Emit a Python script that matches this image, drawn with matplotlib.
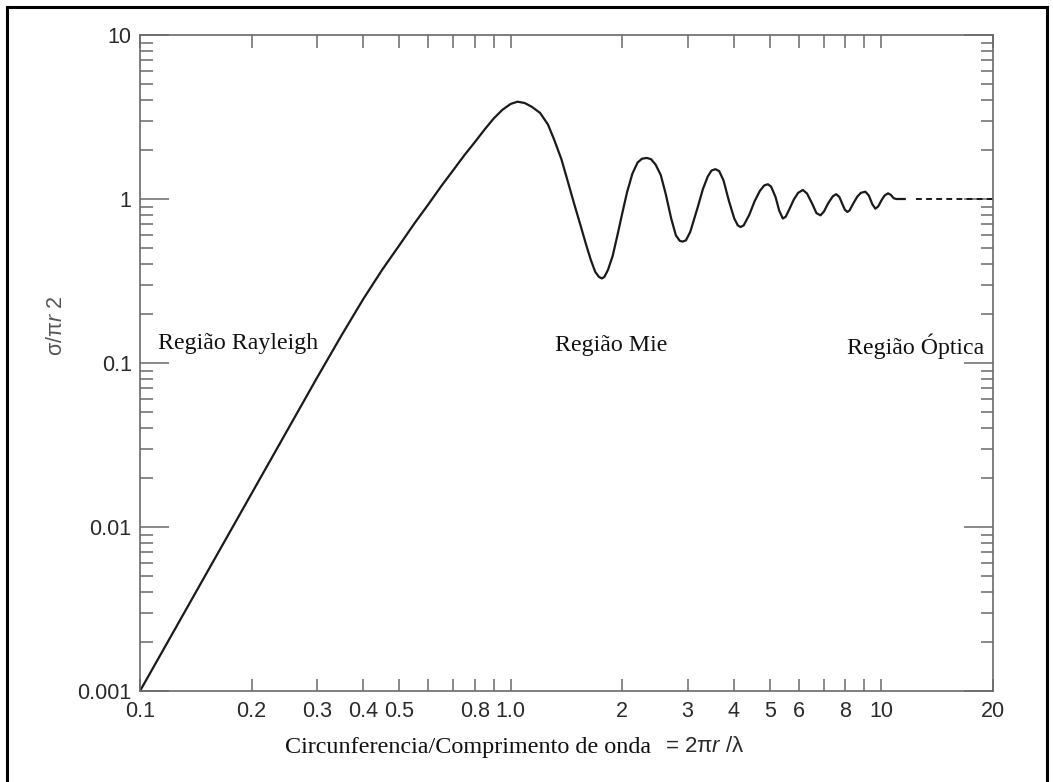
import matplotlib
matplotlib.use("Agg")
import matplotlib.pyplot as plt
from matplotlib.lines import Line2D
from matplotlib.ticker import FixedLocator, NullFormatter, FixedFormatter

plt.rcParams["mathtext.fontset"] = "custom"
plt.rcParams["mathtext.it"] = "Liberation Sans:italic"
plt.rcParams["mathtext.rm"] = "Liberation Sans"

# ---- data (x = 2*pi*r/lambda, y = sigma/(pi r^2)) ----
size_param = [0.1, 0.2, 0.3, 0.35, 0.4, 0.45, 0.5, 0.55, 0.6, 0.65, 0.7, 0.75,
              0.8, 0.85, 0.9, 0.95, 1.0, 1.043, 1.09, 1.14, 1.2, 1.26, 1.31, 1.37,
              1.42, 1.48, 1.546, 1.6, 1.645, 1.69, 1.73, 1.761, 1.79, 1.83, 1.884,
              1.94, 2.0, 2.06, 2.13, 2.2, 2.26, 2.327, 2.39, 2.46, 2.54, 2.62, 2.71,
              2.79, 2.86, 2.91, 2.97, 3.05, 3.19, 3.30, 3.40, 3.48, 3.565, 3.65,
              3.75, 3.88, 4.01, 4.1, 4.17, 4.25, 4.4, 4.55, 4.7, 4.83, 4.94, 5.04,
              5.18, 5.3, 5.42, 5.52, 5.65, 5.8, 5.96, 6.14, 6.3, 6.5, 6.68, 6.85,
              7.0, 7.2, 7.4, 7.55, 7.7, 7.85, 7.97, 8.09, 8.2, 8.4, 8.6, 8.8, 9.05,
              9.25, 9.45, 9.63, 9.8, 10.0, 10.2, 10.42, 10.6, 10.8, 10.98, 11.56]
cross_section = [0.001, 0.016, 0.081, 0.148, 0.245, 0.37, 0.52, 0.71, 0.93, 1.2, 1.5, 1.85,
                 2.22, 2.65, 3.1, 3.5, 3.8, 3.92, 3.85, 3.65, 3.35, 2.85, 2.3, 1.75,
                 1.32, 0.95, 0.68, 0.52, 0.425, 0.36, 0.335, 0.328, 0.335, 0.37, 0.45,
                 0.6, 0.82, 1.1, 1.43, 1.67, 1.76, 1.78, 1.75, 1.62, 1.4, 1.07, 0.76,
                 0.6, 0.555, 0.55, 0.56, 0.63, 0.88, 1.15, 1.37, 1.49, 1.52, 1.48,
                 1.3, 0.97, 0.76, 0.69, 0.675, 0.69, 0.8, 0.97, 1.12, 1.21, 1.23, 1.19,
                 1.03, 0.85, 0.76, 0.78, 0.87, 0.99, 1.09, 1.135, 1.08, 0.94, 0.82, 0.795,
                 0.84, 0.95, 1.04, 1.07, 1.03, 0.93, 0.86, 0.834, 0.85, 0.94, 1.03, 1.09, 1.108,
                 1.05, 0.93, 0.873, 0.9, 0.98, 1.05, 1.083, 1.06, 1.01, 1.0, 1.0]
optical_x = [12.36, 20.0]
optical_y = [1.0, 1.0]

x_tick_vals = [0.1, 0.2, 0.3, 0.4, 0.5, 0.8, 1.0, 2, 3, 4, 5, 6, 8, 10, 20]
x_tick_labels = ["0.1", "0.2", "0.3", "0.4", "0.5", "0.8", "1.0", "2", "3", "4", "5",
                 "6", "8", "10", "20"]
x_minor_vals = [0.6, 0.7, 0.9, 7, 9]
y_tick_vals = [0.001, 0.01, 0.1, 1, 10]
y_tick_labels = ["0.001", "0.01", "0.1", "1", "10"]

region_labels = ["Região Rayleigh", "Região Mie", "Região Óptica"]

W, H = 1053, 782
fig = plt.figure(figsize=(W / 100, H / 100), dpi=100)
fig.patch.set_facecolor("white")

L, R, T, B = 140, 993, 35, 691
ax = fig.add_axes([L / W, 1 - B / H, (R - L) / W, (B - T) / H])
ax.set_xscale("log")
ax.set_yscale("log")
ax.set_xlim(0.1, 20)
ax.set_ylim(0.001, 10)

ax.plot(size_param, cross_section, color="#1a1a1a", lw=1.6, solid_joinstyle="round")
ax.plot(optical_x, optical_y, color="#1a1a1a", lw=1.4, linestyle=(0, (3, 2.2)))

spine_col = "#6a6a6a"
for s in ax.spines.values():
    s.set_color(spine_col)
    s.set_linewidth(1.2)

ax.xaxis.set_major_locator(FixedLocator(x_tick_vals))
ax.xaxis.set_major_formatter(FixedFormatter(x_tick_labels))
ax.xaxis.set_minor_locator(FixedLocator(x_minor_vals))
ax.xaxis.set_minor_formatter(NullFormatter())
ax.yaxis.set_major_locator(FixedLocator(y_tick_vals))
ax.yaxis.set_major_formatter(FixedFormatter(y_tick_labels))
ax.yaxis.set_minor_locator(FixedLocator([m * 10.0 ** e for e in range(-3, 1) for m in range(2, 10)]))
ax.yaxis.set_minor_formatter(NullFormatter())

ax.tick_params(axis="x", which="both", direction="in", length=9, width=1.1,
               color=spine_col, top=True, bottom=True, pad=7, labelcolor="#2a2a2a")
ax.tick_params(axis="y", which="major", direction="in", length=21, width=1.1,
               color=spine_col, left=True, right=True, pad=6, labelcolor="#2a2a2a")
ax.tick_params(axis="y", which="minor", direction="in", length=9, width=1.1,
               color=spine_col, left=True, right=True)
for lab in ax.get_xticklabels() + ax.get_yticklabels():
    lab.set_fontfamily(["Liberation Sans", "DejaVu Sans"])
    lab.set_fontsize(15.5)

serif = ["Liberation Serif", "DejaVu Serif"]
sans = ["Liberation Sans", "DejaVu Sans"]

# region labels (positioned in figure pixels)
fig.text(158 / W, 1 - 344 / H, region_labels[0], family=serif, size=17.2,
         ha="left", va="center", color="#111111")
fig.text(555 / W, 1 - 346 / H, region_labels[1], family=serif, size=17.2,
         ha="left", va="center", color="#111111")
fig.text(847 / W, 1 - 346 / H, region_labels[2], family=serif, size=17.2,
         ha="left", va="center", color="#111111")

# x label: serif part + sans formula part
fig.text(651 / W, 1 - 747 / H, "Circunferencia/Comprimento de onda", family=serif,
         size=17.4, ha="right", va="center", color="#111111")
fig.text(665 / W, 1 - 747 / H, "= 2π$\\it{r}$ /λ", family=sans,
         size=16, ha="left", va="center", color="#2a2a2a")

# y label
fig.text(56 / W, 1 - 326 / H, "σ/π$\\it{r}$ 2", family=sans, size=15.5,
         rotation=90, ha="center", va="center", color="#555555")

# outer black frame (left, top, right)
fig.add_artist(Line2D([7 / W, 7 / W], [0, 1 - 7 / H], transform=fig.transFigure,
                      color="black", lw=2.2))
fig.add_artist(Line2D([7 / W, 1047 / W], [1 - 7 / H, 1 - 7 / H], transform=fig.transFigure,
                      color="black", lw=2.2))
fig.add_artist(Line2D([1047 / W, 1047 / W], [0, 1 - 7 / H], transform=fig.transFigure,
                      color="black", lw=2.2))

fig.savefig("out.png", dpi=100)
